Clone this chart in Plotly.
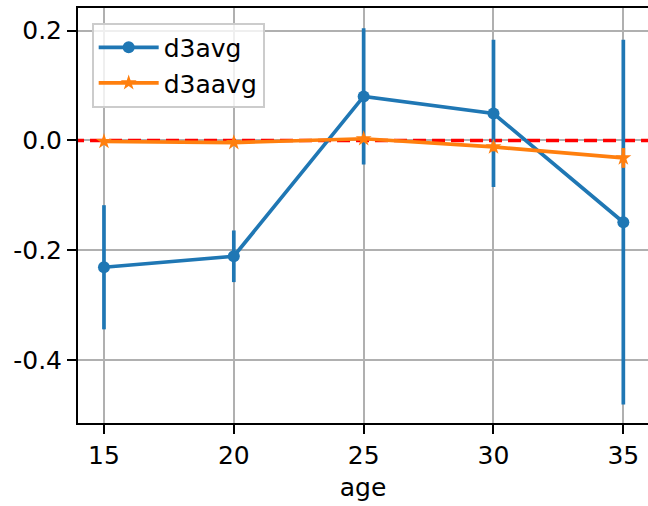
import plotly.graph_objects as go

age = [15, 20, 25, 30, 35]
d3avg = [-0.231, -0.211, 0.080, 0.049, -0.149]
d3avg_err = [0.113, 0.047, 0.124, 0.134, 0.332]
d3aavg = [-0.002, -0.004, 0.003, -0.012, -0.032]
d3aavg_err = [0.003, 0.003, 0.005, 0.008, 0.018]

y_ticks = [0.2, 0.0, -0.2, -0.4]
y_tick_labels = ["0.2", "0.0", "-0.2", "-0.4"]
x_ticks = [15, 20, 25, 30, 35]

blue = "#1f77b4"
orange = "#ff7f0e"

fig = go.Figure()

fig.add_trace(go.Scatter(
    x=[13, 37], y=[0, 0], mode="lines",
    line=dict(color="red", width=3.5, dash="13px,6px"),
    showlegend=False, hoverinfo="skip",
))

fig.add_trace(go.Scatter(
    x=age, y=d3avg, name="d3avg", mode="lines+markers",
    line=dict(color=blue, width=3.7),
    marker=dict(color=blue, size=12, symbol="circle"),
    error_y=dict(type="data", array=d3avg_err, color=blue, thickness=3.7, width=0),
))

fig.add_trace(go.Scatter(
    x=age, y=d3aavg, name="d3aavg", mode="lines+markers",
    line=dict(color=orange, width=3.7),
    marker=dict(color=orange, size=12, symbol="star"),
    error_y=dict(type="data", array=d3aavg_err, color=orange, thickness=3.7, width=0),
))

axis_font = dict(family="DejaVu Sans", size=25, color="black")

fig.update_layout(
    width=648, height=506,
    margin=dict(l=78, r=0, t=8, b=83),
    paper_bgcolor="white", plot_bgcolor="white",
    font=axis_font,
    showlegend=True,
    legend=dict(
        x=0.024, y=0.965, xanchor="left", yanchor="top",
        bgcolor="rgba(255,255,255,0.8)", bordercolor="#cccccc", borderwidth=2,
        font=dict(family="DejaVu Sans", size=25, color="black"),
        itemwidth=60, tracegroupgap=0,
        entrywidth=160, entrywidthmode="pixels",
    ),
    xaxis=dict(
        range=[14, 35.95], tickvals=x_ticks, ticktext=[str(v) for v in x_ticks],
        showgrid=True, gridcolor="#b0b0b0", gridwidth=2,
        showline=True, linecolor="black", linewidth=2, mirror=True,
        ticks="outside", ticklen=9, tickwidth=2, tickcolor="black",
        zeroline=False,
        title=dict(text="age", font=axis_font, standoff=9),
        tickfont=axis_font,
    ),
    yaxis=dict(
        range=[-0.5145, 0.241], tickvals=y_ticks, ticktext=y_tick_labels,
        showgrid=True, gridcolor="#b0b0b0", gridwidth=2,
        showline=True, linecolor="black", linewidth=2, mirror=False,
        ticks="outside", ticklen=9, tickwidth=2, tickcolor="black",
        zeroline=False, tickfont=axis_font,
    ),
)

fig.write_html("out.html", config={"displayModeBar": False},
               post_script="document.body.style.margin='0';")
